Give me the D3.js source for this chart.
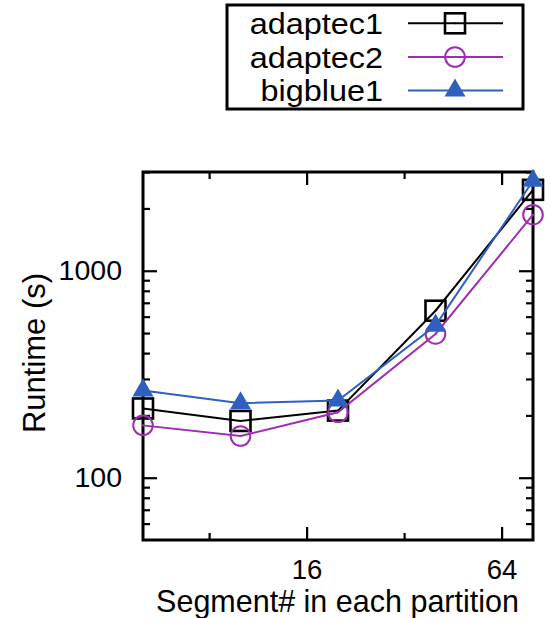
<!DOCTYPE html>
<html><head><meta charset="utf-8">
<script src="https://cdn.jsdelivr.net/npm/d3@7"></script>
<style>body{margin:0;background:#fff} svg{display:block}</style>
</head><body><svg id="c" width="552" height="618"></svg>
<script>
const segments = [5, 10, 20, 40, 80];
const seriesNames = ["adaptec1", "adaptec2", "bigblue1"];
const adaptec1 = [216, 188, 211, 641, 2460];
const adaptec2 = [179, 159, 207, 495, 1865];
const bigblue1 = [264, 229, 236, 543, 2720];
const xMajorTicks = [16, 64];
const xMinorTicks = [8, 32];
const yMajorTicks = [100, 1000];
const yMinorTicks = [60, 70, 80, 90, 200, 300, 400, 500, 600, 700, 800, 900, 2000, 3000];
const xTitle = "Segment# in each partition";
const yTitle = "Runtime (s)";

const colors = ["#000000", "#a02cb4", "#3060bf"];
const shapes = ["square", "circle", "triangle"];
const seriesData = [adaptec1, adaptec2, bigblue1];
const FONT = "'Liberation Sans', Arial, Helvetica, sans-serif";

const svg = d3.select("#c");
const L = 143, R = 533, T = 172, B = 540;
const x = d3.scaleLog().base(2).domain([5, 80]).range([L, R]);
const y = d3.scaleLog().domain([50, 3000]).range([B, T]);

function styleAxis(g, fs) {
  g.select(".domain").remove();
  g.selectAll(".tick line").attr("stroke", "#000").attr("stroke-width", 2.2);
  g.selectAll(".tick text").attr("fill", "#000").style("font-family", FONT).style("font-size", fs + "px");
}

// bottom major
svg.append("g").attr("transform", `translate(0,${B})`)
  .call(d3.axisBottom(x).tickValues(xMajorTicks).tickFormat(d3.format("d")).tickSizeInner(-13).tickSizeOuter(0).tickPadding(19.5))
  .call(g => styleAxis(g, 27.5));
svg.append("g").attr("transform", `translate(0,${B})`)
  .call(d3.axisBottom(x).tickValues(xMinorTicks).tickFormat("").tickSizeInner(-7).tickSizeOuter(0))
  .call(g => styleAxis(g, 28));
// top mirror
svg.append("g").attr("transform", `translate(0,${T})`)
  .call(d3.axisTop(x).tickValues(xMajorTicks).tickFormat("").tickSizeInner(-13).tickSizeOuter(0))
  .call(g => styleAxis(g, 28));
svg.append("g").attr("transform", `translate(0,${T})`)
  .call(d3.axisTop(x).tickValues(xMinorTicks).tickFormat("").tickSizeInner(-7).tickSizeOuter(0))
  .call(g => styleAxis(g, 28));
// left
svg.append("g").attr("transform", `translate(${L},0)`)
  .call(d3.axisLeft(y).tickValues(yMajorTicks).tickFormat(d3.format("d")).tickSizeInner(-14).tickSizeOuter(0).tickPadding(21))
  .call(g => styleAxis(g, 28.5));
svg.append("g").attr("transform", `translate(${L},0)`)
  .call(d3.axisLeft(y).tickValues(yMinorTicks).tickFormat("").tickSizeInner(-7).tickSizeOuter(0))
  .call(g => styleAxis(g, 28));
// right mirror
svg.append("g").attr("transform", `translate(${R},0)`)
  .call(d3.axisRight(y).tickValues(yMajorTicks).tickFormat("").tickSizeInner(-14).tickSizeOuter(0))
  .call(g => styleAxis(g, 28));
svg.append("g").attr("transform", `translate(${R},0)`)
  .call(d3.axisRight(y).tickValues(yMinorTicks).tickFormat("").tickSizeInner(-7).tickSizeOuter(0))
  .call(g => styleAxis(g, 28));

// frame
svg.append("rect").attr("x", L).attr("y", T).attr("width", R - L).attr("height", B - T)
  .attr("fill", "none").attr("stroke", "#000").attr("stroke-width", 3);

// titles
svg.append("text").attr("x", 337.5).attr("y", 611.5).attr("text-anchor", "middle")
  .style("font-family", FONT).style("font-size", "30.5px").text(xTitle);
svg.append("text").attr("transform", "translate(45,353) rotate(-90)").attr("text-anchor", "middle")
  .style("font-family", FONT).style("font-size", "31px").text(yTitle);

function drawMarker(g, shape, color, cx, cy) {
  if (shape === "square") {
    g.append("rect").attr("x", cx - 10).attr("y", cy - 10).attr("width", 20).attr("height", 20)
      .attr("fill", "none").attr("stroke", color).attr("stroke-width", 2.6);
    g.append("circle").attr("cx", cx).attr("cy", cy).attr("r", 1).attr("fill", color);
  } else if (shape === "circle") {
    g.append("circle").attr("cx", cx).attr("cy", cy).attr("r", 9.8)
      .attr("fill", "none").attr("stroke", color).attr("stroke-width", 2);
    g.append("circle").attr("cx", cx).attr("cy", cy).attr("r", 1).attr("fill", color);
  } else {
    g.append("path").attr("d", d3.symbol(d3.symbolTriangle, 190)())
      .attr("transform", `translate(${cx},${cy})`).attr("fill", color);
  }
}

const line = d3.line().x(d => x(d[0])).y(d => y(d[1]));
seriesData.forEach((vals, i) => {
  const pts = segments.map((s, j) => [s, vals[j]]);
  const g = svg.append("g");
  g.append("path").attr("d", line(pts)).attr("fill", "none").attr("stroke", colors[i]).attr("stroke-width", 2);
  pts.forEach(p => drawMarker(g, shapes[i], colors[i], x(p[0]), y(p[1])));
});

// legend
svg.append("rect").attr("x", 227).attr("y", 5).attr("width", 296).attr("height", 104)
  .attr("fill", "#fff").attr("stroke", "#000").attr("stroke-width", 3);
const rowsY = [23.3, 57, 90.5];
seriesNames.forEach((name, i) => {
  const g = svg.append("g");
  g.append("text").attr("transform", `translate(383,${rowsY[i] + 10.5}) scale(1.08,1)`).attr("text-anchor", "end")
    .style("font-family", FONT).style("font-size", "30px").text(name);
  g.append("line").attr("x1", 408).attr("x2", 503).attr("y1", rowsY[i]).attr("y2", rowsY[i])
    .attr("stroke", colors[i]).attr("stroke-width", 2);
  drawMarker(g, shapes[i], colors[i], 455, rowsY[i]);
});
</script></body></html>
